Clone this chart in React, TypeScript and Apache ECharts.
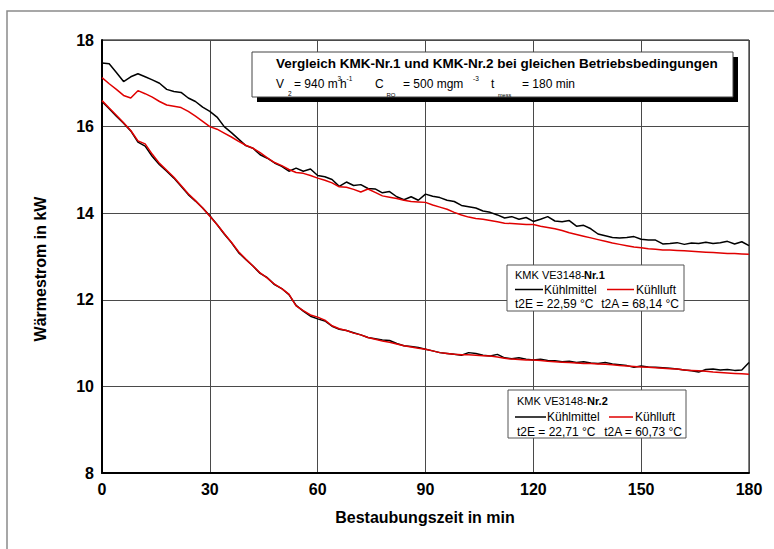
import React, { useEffect, useRef } from "react";
import * as echarts from "echarts";

// Time grid in minutes (2-min sampling)
const minutes: number[] = Array.from({ length: 91 }, (_, i) => i * 2);

const xTicks = [0, 30, 60, 90, 120, 150, 180];
const yTicks = [8, 10, 12, 14, 16, 18];

// KMK VE3148-Nr.1, Kühlmittel (black)
const nr1Kuehlmittel = [
  17.47, 17.45, 17.25, 17.04, 17.15, 17.22, 17.15, 17.08, 17.0, 16.86,
  16.81, 16.79, 16.66, 16.58, 16.45, 16.35, 16.22, 16.0, 15.86, 15.71,
  15.56, 15.5, 15.35, 15.27, 15.16, 15.08, 14.97, 15.04, 14.97, 15.02,
  14.87, 14.84, 14.78, 14.62, 14.72, 14.64, 14.66, 14.57, 14.56, 14.47,
  14.5, 14.38, 14.31, 14.38, 14.3, 14.44, 14.39, 14.36, 14.3, 14.27,
  14.18, 14.15, 14.12, 14.05, 14.02, 13.96, 13.89, 13.92, 13.86, 13.9,
  13.81, 13.86, 13.92, 13.82, 13.8, 13.83, 13.7, 13.72, 13.64, 13.52,
  13.48, 13.44, 13.43, 13.44, 13.46, 13.4, 13.38, 13.38, 13.29, 13.3,
  13.32, 13.28, 13.31, 13.3, 13.33, 13.3, 13.32, 13.35, 13.29, 13.34,
  13.25,
];

// KMK VE3148-Nr.1, Kühlluft (red)
const nr1Kuehlluft = [
  17.13, 16.99, 16.86, 16.72, 16.66, 16.83, 16.76, 16.68, 16.58, 16.5,
  16.47, 16.44, 16.35, 16.24, 16.12, 16.0, 15.94, 15.85, 15.76, 15.66,
  15.57, 15.5, 15.4, 15.28, 15.17, 15.1, 15.01, 14.94, 14.92, 14.87,
  14.81, 14.76, 14.7, 14.61, 14.6, 14.55, 14.49, 14.56, 14.48, 14.4,
  14.37, 14.34, 14.3, 14.27, 14.26, 14.25, 14.19, 14.14, 14.09, 14.02,
  13.96, 13.91, 13.88, 13.86, 13.83, 13.8, 13.77, 13.76, 13.75, 13.74,
  13.74, 13.7, 13.67, 13.64, 13.6, 13.55, 13.51, 13.47, 13.43, 13.39,
  13.35, 13.31, 13.28, 13.25, 13.22, 13.2, 13.18, 13.17, 13.15, 13.15,
  13.14, 13.13, 13.12, 13.11, 13.1, 13.09, 13.08, 13.07, 13.07, 13.06,
  13.05,
];

// KMK VE3148-Nr.2, Kühlmittel (black)
const nr2Kuehlmittel = [
  16.58, 16.41, 16.24, 16.08, 15.9, 15.64, 15.55, 15.31, 15.12, 14.97,
  14.81, 14.62, 14.43, 14.28, 14.12, 13.94, 13.74, 13.52, 13.32, 13.09,
  12.93, 12.78, 12.61, 12.51, 12.35, 12.26, 12.12, 11.87, 11.74, 11.62,
  11.56, 11.51, 11.39, 11.32, 11.29, 11.24, 11.19, 11.13, 11.1, 11.07,
  11.06, 10.99, 10.94, 10.92, 10.9, 10.86, 10.82, 10.78, 10.76, 10.74,
  10.72, 10.78, 10.76, 10.72, 10.7, 10.74, 10.66, 10.64, 10.66, 10.63,
  10.61, 10.63, 10.6, 10.59, 10.57, 10.58, 10.55, 10.57, 10.54, 10.53,
  10.55, 10.52, 10.5, 10.48, 10.44, 10.47, 10.45, 10.44, 10.43, 10.42,
  10.4, 10.38, 10.36, 10.33, 10.39, 10.4, 10.38, 10.39, 10.37, 10.38,
  10.55,
];

// KMK VE3148-Nr.2, Kühlluft (red)
const nr2Kuehlluft = [
  16.6, 16.43, 16.26, 16.09, 15.91, 15.67, 15.6, 15.36, 15.15, 14.99,
  14.83, 14.64, 14.45, 14.29, 14.12, 13.93, 13.74, 13.53, 13.33, 13.11,
  12.94, 12.78, 12.62, 12.5, 12.36, 12.26, 12.13, 11.86, 11.75, 11.65,
  11.6, 11.53, 11.4, 11.33, 11.29, 11.23, 11.19, 11.13, 11.09, 11.05,
  11.02, 10.98, 10.94, 10.91, 10.88, 10.86, 10.82, 10.78, 10.76, 10.74,
  10.73, 10.73, 10.72, 10.71, 10.7, 10.68, 10.65, 10.63, 10.62, 10.61,
  10.61, 10.6, 10.58, 10.57, 10.56, 10.55, 10.54, 10.53, 10.53, 10.52,
  10.51, 10.5, 10.48, 10.47, 10.46, 10.45, 10.44, 10.43, 10.42, 10.41,
  10.4, 10.38, 10.37, 10.36, 10.35, 10.33, 10.32, 10.31, 10.3, 10.29,
  10.28,
];

const FONT = "'Liberation Sans', Arial, sans-serif";

function pairs(values: number[]) {
  return values.map((v, i) => [minutes[i], v]);
}

function txt(
  text: string,
  x: number,
  y: number,
  size: number,
  bold = false,
  align: string = "left"
) {
  return {
    type: "text",
    z: 20,
    style: {
      text,
      x,
      y,
      fill: "#000",
      fontFamily: FONT,
      fontSize: size,
      fontWeight: bold ? "bold" : "normal",
      textAlign: align,
      textVerticalAlign: "middle",
    },
  };
}

function hline(x1: number, x2: number, y: number, color: string) {
  return {
    type: "line",
    z: 20,
    shape: { x1, y1: y, x2, y2: y },
    style: { stroke: color, lineWidth: 1.5 },
  };
}

function legendBox(
  x: number,
  y: number,
  w: number,
  h: number,
  nr: string,
  rows: number[],
  cols: { t0: number; nr: number; l1: [number, number]; k1: number; l2: [number, number]; k2: number; tEnd: number },
  t2E: string,
  t2A: string
) {
  return [
    {
      type: "rect",
      z: 15,
      shape: { x, y, width: w, height: h },
      style: { fill: "#fff", stroke: "#555", lineWidth: 1 },
    },
    txt("KMK VE3148-", cols.t0, rows[0], 11),
    txt(nr, cols.nr, rows[0], 11, true),
    hline(cols.l1[0], cols.l1[1], rows[1], "#000"),
    txt("Kühlmittel", cols.k1, rows[1], 12),
    hline(cols.l2[0], cols.l2[1], rows[1], "#e00000"),
    txt("Kühlluft", cols.k2, rows[1], 12),
    txt(t2E, cols.t0, rows[2], 12),
    txt(t2A, cols.tEnd, rows[2], 12, false, "right"),
  ];
}

export default function App() {
  const ref = useRef<HTMLDivElement>(null);

  useEffect(() => {
    if (!ref.current) return;
    const chart = echarts.init(ref.current, null, { renderer: "svg" });

    const graphic: any[] = [
      // outer frame
      {
        type: "polyline",
        z: 1,
        shape: { points: [[7, 549], [7, 11], [774, 11]] },
        style: { stroke: "#8a8a8a", lineWidth: 1.5, fill: null },
      },
      // axis names
      {
        type: "text",
        z: 20,
        x: 40,
        y: 269,
        rotation: Math.PI / 2,
        style: {
          text: "Wärmestrom in kW",
          x: 0,
          y: 0,
          fontFamily: FONT,
          fontSize: 16,
          fontWeight: "bold",
          fill: "#000",
          textAlign: "center",
          textVerticalAlign: "middle",
        },
      },
      txt("Bestaubungszeit in min", 425, 517, 16, true, "center"),
      // title box shadow + box
      {
        type: "rect",
        z: 14,
        shape: { x: 257, y: 57, width: 481, height: 45 },
        style: { fill: "#000" },
      },
      {
        type: "rect",
        z: 15,
        shape: { x: 252, y: 52, width: 481, height: 45 },
        style: { fill: "#fff", stroke: "#444", lineWidth: 1 },
      },
      txt("Vergleich KMK-Nr.1 und KMK-Nr.2 bei gleichen Betriebsbedingungen", 276, 63, 13.5, true),
      txt("V", 276, 84, 12),
      txt("2", 288, 93, 6.5),
      txt("= 940 m", 294, 84, 12),
      txt("3", 337.5, 78.5, 6.5),
      txt("h", 340, 84, 12),
      txt("-1", 346.5, 78.5, 6.5),
      txt("C", 375, 84, 12),
      txt("RO", 386.5, 94.5, 6),
      txt("= 500 mgm", 403, 84, 12),
      txt("-3", 473, 78.5, 6.5),
      txt("t", 491, 84, 12),
      txt("mess", 498, 95, 5.5),
      txt("= 180 min", 522, 84, 12),
      ...legendBox(
        507,
        265,
        177,
        46,
        "Nr.1",
        [275, 289.5, 303.5],
        { t0: 515, nr: 584, l1: [515, 543], k1: 544, l2: [607, 634], k2: 636, tEnd: 679 },
        "t2E = 22,59 °C",
        "t2A = 68,14 °C"
      ),
      ...legendBox(
        508,
        390,
        178,
        48,
        "Nr.2",
        [400.5, 417, 431.5],
        { t0: 517, nr: 587, l1: [515, 546], k1: 547, l2: [609, 633], k2: 635, tEnd: 682 },
        "t2E = 22,71 °C",
        "t2A = 60,73 °C"
      ),
    ];

    const lineSeries = (name: string, values: number[], color: string, z: number) => ({
      name,
      type: "line",
      data: pairs(values),
      showSymbol: false,
      symbol: "none",
      z,
      lineStyle: { color, width: 1.5 },
      itemStyle: { color },
    });

    chart.setOption({
      animation: false,
      backgroundColor: "#fff",
      textStyle: { fontFamily: FONT },
      grid: {
        left: 102,
        right: 25,
        top: 40,
        bottom: 76,
        show: true,
        borderColor: "#000",
        borderWidth: 1,
        backgroundColor: "transparent",
      },
      xAxis: {
        type: "value",
        min: xTicks[0],
        max: xTicks[xTicks.length - 1],
        interval: 30,
        axisLine: { show: true, lineStyle: { color: "#000", width: 2 } },
        axisTick: { show: false },
        splitLine: { show: true, lineStyle: { color: "#4a4a4a", width: 1 } },
        axisLabel: {
          color: "#000",
          fontFamily: FONT,
          fontSize: 16,
          fontWeight: "bold",
          margin: 8,
        },
      },
      yAxis: {
        type: "value",
        min: yTicks[0],
        max: yTicks[yTicks.length - 1],
        interval: 2,
        axisLine: { show: true, lineStyle: { color: "#000", width: 2 } },
        axisTick: { show: false },
        splitLine: { show: true, lineStyle: { color: "#4a4a4a", width: 1 } },
        axisLabel: {
          color: "#000",
          fontFamily: FONT,
          fontSize: 16,
          fontWeight: "bold",
          margin: 8,
        },
      },
      series: [
        lineSeries("Nr.1 Kühlmittel", nr1Kuehlmittel, "#000", 3),
        lineSeries("Nr.1 Kühlluft", nr1Kuehlluft, "#e00000", 4),
        lineSeries("Nr.2 Kühlmittel", nr2Kuehlmittel, "#000", 3),
        lineSeries("Nr.2 Kühlluft", nr2Kuehlluft, "#e00000", 4),
      ],
      graphic,
    });

    return () => chart.dispose();
  }, []);

  return (
    <div
      ref={ref}
      style={{ position: "fixed", left: 0, top: 0, width: 774, height: 549, background: "#fff" }}
    />
  );
}
